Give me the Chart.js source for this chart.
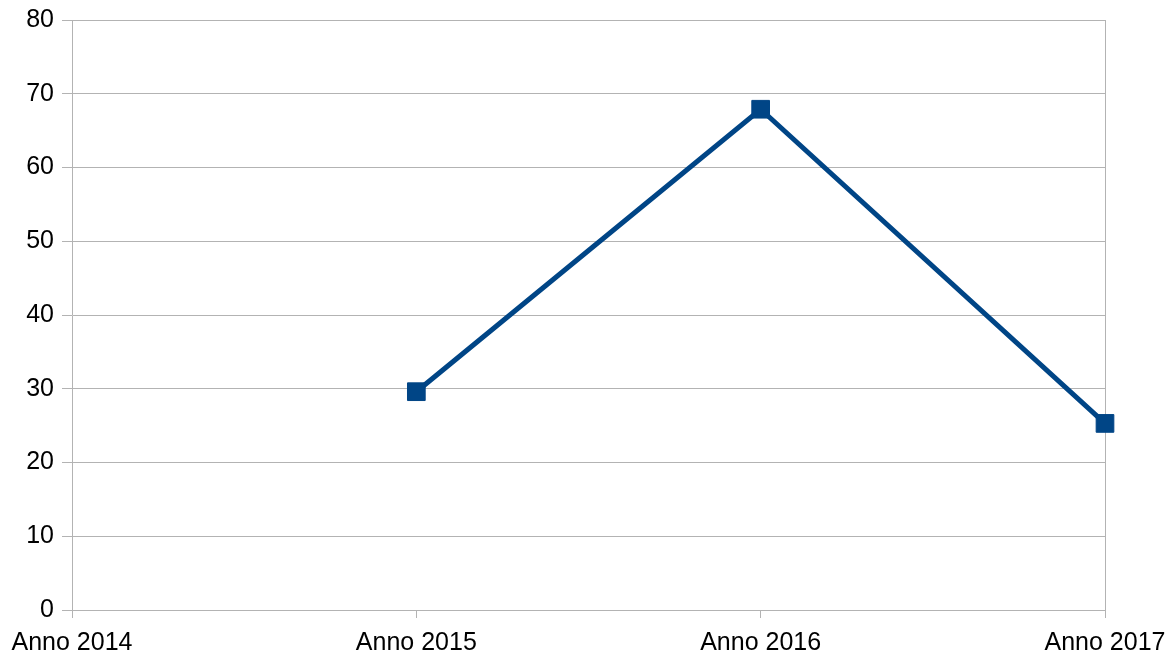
<!DOCTYPE html>
<html>
<head>
<meta charset="utf-8">
<script src="https://cdn.jsdelivr.net/npm/chart.js@4/dist/chart.umd.min.js"></script>
<style>
html,body{margin:0;padding:0;background:#fff;}
#wrap{width:1167px;height:657px;position:relative;}
</style>
</head>
<body>
<div id="wrap"><canvas id="c"></canvas></div>
<script>
const categories = ["Anno 2014", "Anno 2015", "Anno 2016", "Anno 2017"];
const seriesValues = [null, 29.6, 67.9, 25.3];
const yTicks = [0, 10, 20, 30, 40, 50, 60, 70, 80];

const gridColor = '#b3b3b3';
new Chart(document.getElementById('c'), {
  type: 'line',
  data: {
    labels: categories,
    datasets: [{
      data: seriesValues,
      borderColor: '#004586',
      backgroundColor: '#004586',
      borderWidth: 5,
      pointStyle: 'rect',
      pointRadius: 12.5,
      pointHoverRadius: 12.5,
      pointBorderWidth: 1,
      tension: 0,
      spanGaps: false
    }]
  },
  options: {
    responsive: true,
    maintainAspectRatio: false,
    animation: false,
    devicePixelRatio: 1,
    layout: { padding: { top: 20, right: 62, left: 0, bottom: 0 } },
    plugins: { legend: { display: false }, tooltip: { enabled: false } },
    scales: {
      x: {
        offset: false,
        afterFit: s => { s.height = 47; s.paddingLeft = 0; s.paddingRight = 0; },
        grid: {
          color: ctx => (ctx.index === categories.length - 1) ? gridColor : 'transparent',
          tickColor: gridColor,
          tickLength: 8,
          lineWidth: 1
        },
        border: { color: gridColor, width: 1 },
        ticks: {
          color: '#000',
          font: { family: 'Liberation Sans', size: 25 },
          maxRotation: 0,
          autoSkip: false,
          padding: 10
        }
      },
      y: {
        min: 0, max: 80,
        afterBuildTicks: s => { s.ticks = yTicks.map(v => ({ value: v })); },
        afterFit: s => { s.width = 72; s.paddingTop = 0; s.paddingBottom = 0; },
        grid: { color: gridColor, tickColor: gridColor, tickLength: 10, lineWidth: 1 },
        border: { color: gridColor, width: 1 },
        ticks: {
          color: '#000',
          font: { family: 'Liberation Sans', size: 25 },
          padding: 8
        }
      }
    }
  }
});
</script>
</body>
</html>
